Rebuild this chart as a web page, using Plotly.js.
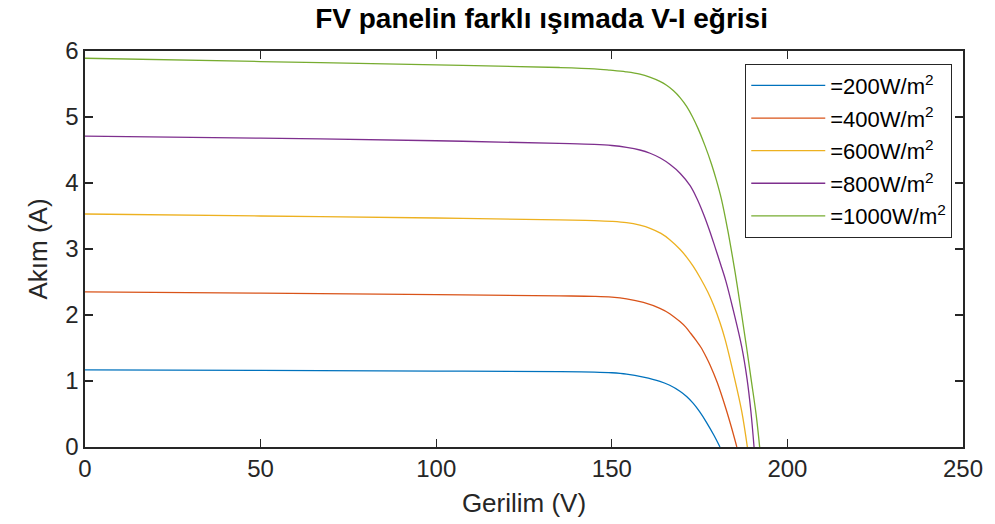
<!DOCTYPE html>
<html>
<head>
<meta charset="utf-8">
<script src="https://cdn.plot.ly/plotly-3.0.1.min.js"></script>
<style>html,body{margin:0;padding:0;background:#fff;}#chart{width:995px;height:524px;}</style>
</head>
<body>
<div id="chart"></div>
<script>
// Gerilim (V) / Akım (A) values
const seriesNames = ["=200W/m<sup>2</sup>", "=400W/m<sup>2</sup>", "=600W/m<sup>2</sup>", "=800W/m<sup>2</sup>", "=1000W/m<sup>2</sup>"];

const v200 = [0, 50, 100, 135, 145, 150, 154.2, 159, 163.7, 166.5, 169.4, 171.3, 173.2, 175, 177, 179, 180.8];
const i200 = [1.17, 1.16, 1.15, 1.142, 1.135, 1.125, 1.105, 1.06, 0.995, 0.935, 0.845, 0.765, 0.66, 0.535, 0.37, 0.185, 0];

const v400 = [0, 50, 100, 135, 145, 150, 154.2, 159, 163.7, 166.5, 169.4, 171, 172.5, 174, 175.5, 177, 178, 180, 182.5, 184, 185.6];
const i400 = [2.35, 2.33, 2.31, 2.29, 2.282, 2.27, 2.245, 2.19, 2.10, 2.02, 1.90, 1.82, 1.72, 1.615, 1.50, 1.35, 1.24, 0.98, 0.58, 0.31, 0];

const v600 = [0, 50, 100, 135, 145, 150, 154.2, 158, 160.9, 164, 166.5, 169.4, 171.3, 173.2, 175.2, 177.3, 179, 180.8, 182.3, 184.6, 187, 188.6];
const i600 = [3.53, 3.50, 3.47, 3.44, 3.43, 3.418, 3.398, 3.36, 3.314, 3.236, 3.141, 2.996, 2.878, 2.737, 2.561, 2.351, 2.147, 1.886, 1.623, 1.12, 0.54, 0];

const v800 = [0, 50, 100, 135, 145, 150, 154.2, 158, 160.9, 163.8, 166.6, 169.5, 172.3, 174.2, 176.1, 177.8, 179.4, 181, 182.5, 184.6, 187, 188.5, 189.6, 190.5];
const i800 = [4.71, 4.68, 4.64, 4.60, 4.585, 4.568, 4.54, 4.50, 4.451, 4.378, 4.28, 4.145, 3.959, 3.769, 3.531, 3.285, 3.029, 2.765, 2.51, 2.069, 1.517, 1.037, 0.542, 0];

const v1000 = [0, 50, 100, 135, 145, 149.5, 154, 158, 161, 163.7, 165.6, 167.5, 169.5, 171.3, 173, 174.6, 176.5, 178.4, 179.8, 181.2, 183, 184.5, 185.7, 187, 188.4, 189.8, 191.1, 192.1];
const i1000 = [5.89, 5.84, 5.79, 5.75, 5.73, 5.71, 5.685, 5.65, 5.60, 5.54, 5.48, 5.40, 5.29, 5.16, 5.00, 4.82, 4.57, 4.285, 4.04, 3.76, 3.29, 2.84, 2.45, 2.00, 1.50, 0.98, 0.49, 0];

const xTicks = [0, 50, 100, 150, 200, 250];
const yTicks = [0, 1, 2, 3, 4, 5, 6];

const colors = ["#0072BD", "#D95319", "#EDB120", "#7E2F8E", "#77AC30"];
const xs = [v200, v400, v600, v800, v1000];
const ys = [i200, i400, i600, i800, i1000];

const traces = xs.map((x, k) => ({
  type: "scatter", mode: "lines", x: x, y: ys[k], name: seriesNames[k],
  legendgroup: "g" + k,
  line: {color: colors[k], width: 1.3, shape: "spline", smoothing: 1.0}
}));

const FONT = "Liberation Sans, Arial, sans-serif";
const axisCommon = {
  showline: true, linecolor: "#262626", linewidth: 1.6, mirror: "allticks",
  ticks: "inside", ticklen: 8, tickwidth: 1.3, tickcolor: "#262626",
  showgrid: false, zeroline: false,
  tickfont: {family: FONT, size: 24, color: "#262626"}
};

const layout = {
  width: 995, height: 524,
  margin: {l: 85, r: 32, t: 51, b: 77},
  paper_bgcolor: "#ffffff", plot_bgcolor: "#ffffff",
  font: {family: FONT, color: "#262626"},
  title: {text: "<b>FV panelin farklı ışımada V-I eğrisi</b>", x: 0.52, xref: "paper", xanchor: "center",
          y: 0.966, yref: "container", yanchor: "middle",
          font: {family: FONT, size: 28, color: "#000000"}},
  xaxis: Object.assign({}, axisCommon, {range: [0, 250], tickvals: xTicks,
          title: {text: "Gerilim (V)", standoff: 12, font: {family: FONT, size: 26, color: "#262626"}}}),
  yaxis: Object.assign({}, axisCommon, {range: [0, 6.0], tickvals: yTicks,
          title: {text: "Akım (A)", standoff: 10, font: {family: FONT, size: 26, color: "#262626"}}}),
  legend: {x: 0.752, y: 0.968, xanchor: "left", yanchor: "top",
           bgcolor: "#ffffff", bordercolor: "#262626", borderwidth: 1,
           font: {family: FONT, size: 22, color: "#000000"},
           itemwidth: 74, tracegroupgap: 1},
  showlegend: true
};

Plotly.newPlot("chart", traces, layout, {displayModeBar: false, staticPlot: true});
</script>
</body>
</html>
